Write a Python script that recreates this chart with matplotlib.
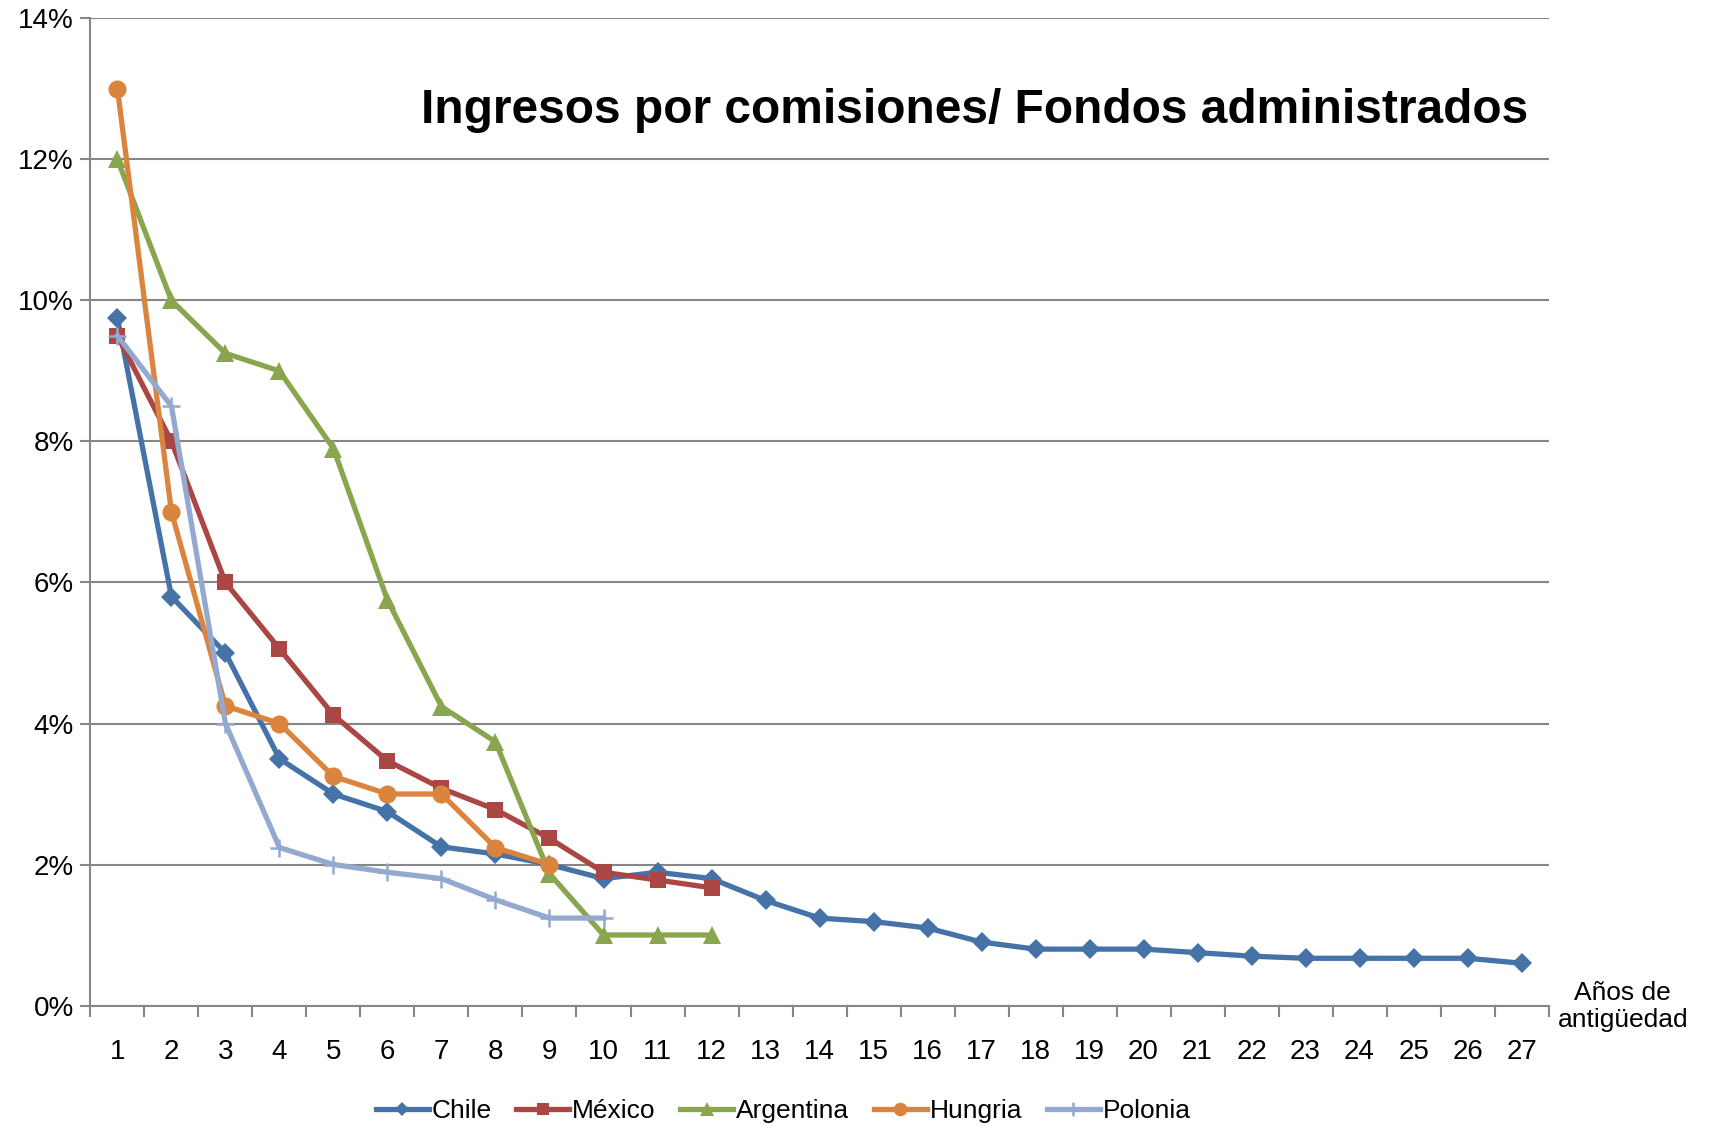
import matplotlib
matplotlib.use("Agg")
import matplotlib.pyplot as plt
from matplotlib import font_manager
import numpy as np

plt.rcParams['font.family'] = ['Liberation Sans', 'DejaVu Sans']

years = list(range(1, 28))
chile = [9.75, 5.8, 5.0, 3.5, 3.0, 2.75, 2.25, 2.15, 2.0, 1.8, 1.89, 1.8, 1.49, 1.24,
         1.19, 1.1, 0.9, 0.8, 0.8, 0.8, 0.75, 0.7, 0.67, 0.67, 0.67, 0.67, 0.6]
mexico = [9.5, 8.0, 6.0, 5.06, 4.12, 3.47, 3.08, 2.78, 2.37, 1.89, 1.78, 1.67]
argentina = [12.0, 10.0, 9.25, 9.0, 7.9, 5.75, 4.24, 3.74, 1.87, 1.0, 1.0, 1.0]
hungria = [13.0, 7.0, 4.25, 4.0, 3.25, 3.0, 3.0, 2.24, 2.0]
polonia = [9.5, 8.5, 4.0, 2.24, 2.0, 1.89, 1.8, 1.5, 1.24, 1.24]
yticks = [0, 2, 4, 6, 8, 10, 12, 14]
title = "Ingresos por comisiones/ Fondos administrados"

series = [
    ("Chile", chile, "#4572A7", "D", 10),
    ("México", mexico, "#AA4643", "s", 12),
    ("Argentina", argentina, "#89A54E", "^", 13),
    ("Hungria", hungria, "#DB843D", "o", 13),
    ("Polonia", polonia, "#93A9CF", "+", 13),
]

fig = plt.figure(figsize=(17.1, 11.26), dpi=100)
ax = fig.add_axes([0.0529, 0.107, 0.8527, 0.8766])

handles = []
for name, vals, col, mk, ms in series:
    x = years[:len(vals)]
    kw = dict(color=col, lw=3.8, marker=mk, markersize=ms, clip_on=False, zorder=3)
    if mk == "+":
        kw.update(markeredgewidth=1.8)
    else:
        kw.update(markeredgewidth=0, markerfacecolor=col)
    h, = ax.plot(x, vals, label=name, **kw)
    handles.append(h)

ax.set_xlim(0.5, 27.5)
ax.set_ylim(0, 14)
ax.set_yticks(yticks)
ax.set_yticklabels([f"{v}%" for v in yticks])
ax.set_xticks(years)
ax.set_xticklabels([str(y) for y in years])
ax.set_xticks(np.arange(0.5, 28.0, 1.0), minor=True)
ax.tick_params(axis='x', which='major', length=0, labelsize=20, pad=24)
ax.tick_params(axis='x', which='minor', length=8, color='#868686', width=1.5)
ax.tick_params(axis='y', which='major', length=7, color='#868686', width=1.5, labelsize=20, pad=5)
ax.grid(axis='y', color='#868686', lw=1.5, zorder=0)
for s in ['top', 'right']:
    ax.spines[s].set_visible(False)
for s in ['left', 'bottom']:
    ax.spines[s].set_color('#868686')
    ax.spines[s].set_linewidth(1.5)

ax.text(0.986, 0.907, title, transform=ax.transAxes, ha='right', va='center',
        fontsize=34.5, fontweight='bold')

fig.text(0.949, 0.106, "Años de\nantigüedad", ha='center', va='center', fontsize=19,
         linespacing=1.15)

names = [f.name for f in font_manager.fontManager.ttflist]
legfam = 'Liberation Sans Narrow' if 'Liberation Sans Narrow' in names else 'Liberation Sans'
fig.legend(handles=handles, loc='center', bbox_to_anchor=(0.458, 0.0135), ncol=5,
           frameon=False, prop={'family': legfam, 'size': 19}, handlelength=2.0,
           handletextpad=0.1, columnspacing=0.95, markerscale=0.75)

fig.savefig("out.png", dpi=100)
